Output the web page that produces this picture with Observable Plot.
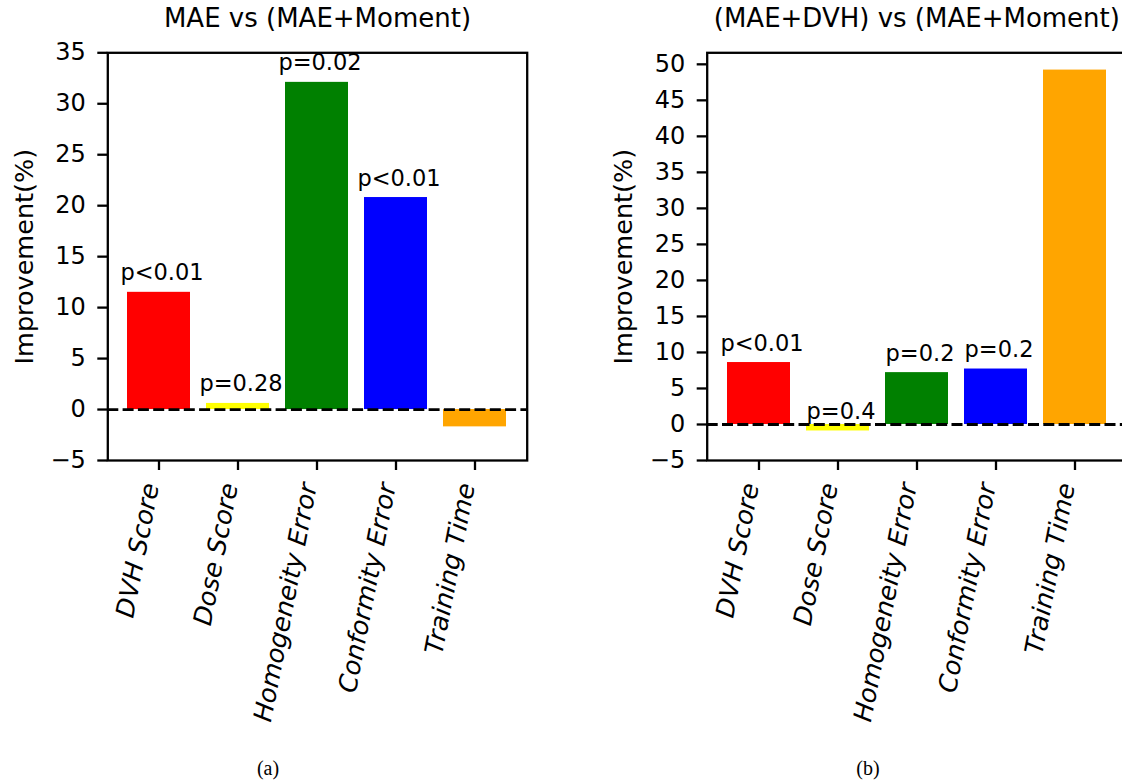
<!DOCTYPE html>
<html>
<head>
<meta charset="utf-8">
<script src="https://cdn.jsdelivr.net/npm/d3@7"></script>
<script src="https://cdn.jsdelivr.net/npm/@observablehq/plot@0.6"></script>
<style>
  html, body { margin: 0; padding: 0; background: #fff; overflow: hidden; }
  #root { position: relative; width: 1122px; height: 780px; overflow: hidden; background: #fff; }
  .panel { position: absolute; top: 0; }
  .cap { position: absolute; top: 758px; font-family: "Liberation Serif", "DejaVu Serif", serif; font-size: 20px; line-height: 1; transform: translateX(-50%); color: #000; }
  g[aria-label="x-axis tick label"] text { font-style: italic; }
</style>
</head>
<body>
<div id="root"></div>
<script>
// ---- data ----
const categories = ["DVH Score", "Dose Score", "Homogeneity Error", "Conformity Error", "Training Time"];
const barColors = ["#ff0000", "#ffff00", "#008000", "#0000ff", "#ffa500"];

const titleA = "MAE vs (MAE+Moment)";
const valuesA = [11.5, 0.6, 32.1, 20.8, -1.7];
const pLabelsA = ["p<0.01", "p=0.28", "p=0.02", "p<0.01", ""];
const yTicksA = [-5, 0, 5, 10, 15, 20, 25, 30, 35];
const yDomainA = [-5, 35];

const titleB = "(MAE+DVH) vs (MAE+Moment)";
const valuesB = [8.6, -0.9, 7.2, 7.7, 49.2];
const pLabelsB = ["p<0.01", "p=0.4", "p=0.2", "p=0.2", ""];
const yTicksB = [-5, 0, 5, 10, 15, 20, 25, 30, 35, 40, 45, 50];
const yDomainB = [-5, 51.6];

const yLabel = "Improvement(%)";
const captions = ["(a)", "(b)"];

// ---- chart ----
function panel({values, pLabels, title, yDomain, yTicks, width, marginLeft, marginRight}) {
  const data = categories.map((c, i) => ({cat: c, v: values[i], p: pLabels[i]}));
  return Plot.plot({
    width,
    height: 750,
    marginTop: 52.3,
    marginBottom: 290,
    marginLeft,
    marginRight,
    style: {fontFamily: "'DejaVu Sans', sans-serif", fontSize: "24px", background: "white", overflow: "visible", color: "black"},
    x: {type: "band", domain: categories, paddingInner: 0.2, paddingOuter: 0.24},
    y: {domain: yDomain},
    color: {domain: categories, range: barColors},
    marks: [
      Plot.barY(data, {x: "cat", y1: 0, y2: "v", fill: "cat", inset: 0}),
      Plot.ruleY([0], {stroke: "black", strokeWidth: 2.8, strokeDasharray: "11,4.3"}),
      Plot.text(data.filter(d => d.p), {x: "cat", y: "v", text: "p", lineAnchor: "bottom", dy: -12, dx: 3, fontSize: 22.5}),
      Plot.frame({stroke: "black", strokeWidth: 2.3}),
      Plot.axisY({ticks: yTicks, tickSize: 10, tickPadding: 12, strokeWidth: 2.3, fontSize: 24, label: null}),
      // x tick marks
      Plot.axisX({tickSize: 10, tickFormat: () => "", strokeWidth: 2.3, label: null}),
      // x tick labels (rotated, slanted)
      Plot.axisX({tickSize: 10, tickPadding: 13, tickRotate: -79, strokeOpacity: 0, dx: -8, fontSize: 25.5, fontStyle: "italic", label: null}),
      Plot.text([title], {text: d => d, frameAnchor: "top", dy: -25.6, lineAnchor: "bottom", fontSize: 26}),
      Plot.text([yLabel], {text: d => d, frameAnchor: "left", textAnchor: "middle", rotate: -90, dx: -83, lineAnchor: "middle", fontSize: 25.5})
    ]
  });
}

const root = document.getElementById("root");

const a = panel({values: valuesA, pLabels: pLabelsA, title: titleA, yDomain: yDomainA, yTicks: yTicksA,
  width: 560, marginLeft: 107.3, marginRight: 33.3});
a.classList.add("panel");
a.style.left = "0px";
root.appendChild(a);

const b = panel({values: valuesB, pLabels: pLabelsB, title: titleB, yDomain: yDomainB, yTicks: yTicksB,
  width: 560, marginLeft: 126.7, marginRight: 14});
b.classList.add("panel");
b.style.left = "580px";
root.appendChild(b);

const capCenters = [268, 868];
captions.forEach((t, i) => {
  const d = document.createElement("div");
  d.className = "cap";
  d.textContent = t;
  d.style.left = capCenters[i] + "px";
  root.appendChild(d);
});
</script>
</body>
</html>
